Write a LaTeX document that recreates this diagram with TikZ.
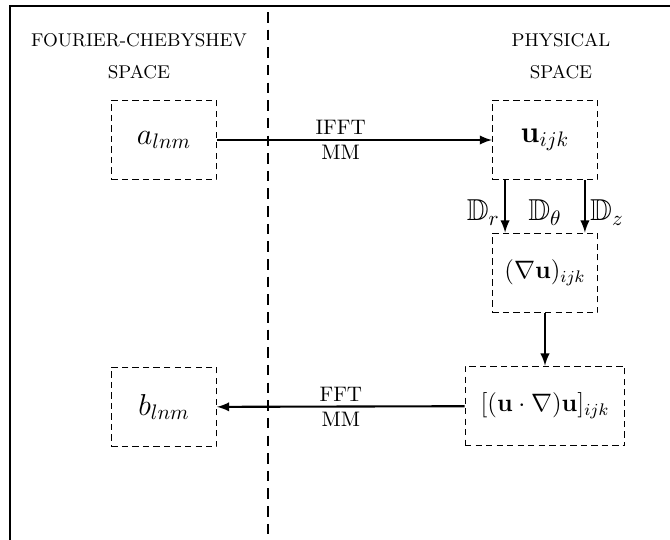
\documentclass[tikz,border=0pt]{standalone}
\usepackage{amssymb}
\usepackage{amsmath}
\usetikzlibrary{positioning}

\begin{document}
\begin{tikzpicture}[
    x=0.476pt, y=-0.476pt,
    box/.style={draw, densely dashed, line width=0.45pt, align=center,
      minimum width=50pt, minimum height=38pt, font=\Large},
    title/.style={align=center, font=\fontsize{8.8}{15}\selectfont},
    arrow/.style={-latex, line width=1pt},
    lbl/.style={font=\normalsize, inner sep=2pt},
    dlbl/.style={font=\Large, inner sep=2pt, yshift=-3pt}
  ]
    \clip (0,0) rectangle (670,540);
    % frame and split between the two spaces
    \draw[line width=1.4pt] (10,560) |- (690,6);
    \draw[line width=1.4pt, dash pattern=on 5pt off 3.4pt] (268,12) -- (268,560);

    \node[title] (spectral) at (139,56) {FOURIER-CHEBYSHEV\\SPACE};
    \node[title] (physical) at (561,56) {PHYSICAL\\SPACE};

    \node[box] (alnm) at (164,140) {$a_{lnm}$};
    \node[box] (uijk) at (545,140) {$\mathbf{u}_{ijk}$};
    \node[box, font=\large] (gradu) at (545,273) {$(\nabla\mathbf{u})_{ijk}$};
    \node[box, font=\large, minimum width=76pt] (conv) at (545,406) {$[(\mathbf{u}\cdot\nabla)\mathbf{u}]_{ijk}$};
    \node[box] (blnm) at (164,407) {$b_{lnm}$};

    \draw[arrow] (alnm) -- (uijk)
      node[lbl, pos=0.45, above] {IFFT} node[lbl, pos=0.45, below] {MM};
    \draw[arrow] ([xshift=-19pt]uijk.south) -- ([xshift=-19pt]gradu.north)
      node[dlbl, midway, left] {$\mathbb{D}_r$};
    \draw[arrow] ([xshift=19pt]uijk.south) -- ([xshift=19pt]gradu.north)
      node[dlbl, midway, right] {$\mathbb{D}_z$};
    \path (uijk.south) -- (gradu.north) node[dlbl, midway] {$\mathbb{D}_\theta$};
    \draw[arrow] (gradu) -- (conv);
    \draw[arrow] (conv) -- (blnm)
      node[lbl, midway, above] {FFT} node[lbl, midway, below] {MM};
  \end{tikzpicture}
\end{document}
